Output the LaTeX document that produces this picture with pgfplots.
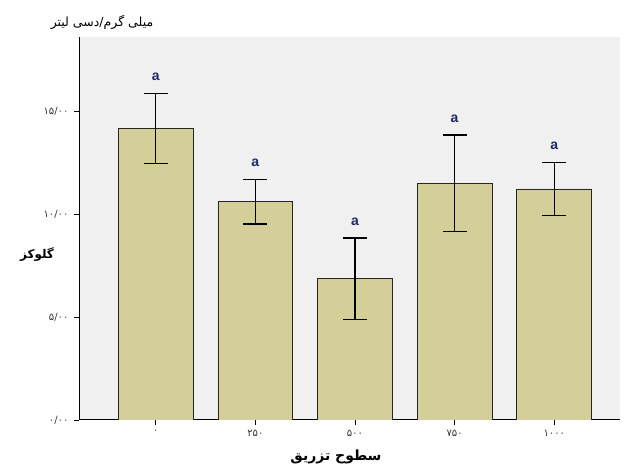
\documentclass[border=0pt]{standalone}
\usepackage{fontspec}
\usepackage{pgfplots}
\pgfplotsset{compat=1.18}
\TeXXeTstate=1
\newfontfamily\fa[Script=Arabic]{DejaVu Sans}
\newfontfamily\lat{Liberation Sans}
\definecolor{barfill}{HTML}{D4CE99}
\definecolor{panel}{HTML}{F0F0F0}
\definecolor{letter}{HTML}{1F2A6B}
\begin{document}
\begin{tikzpicture}[x=1pt,y=1pt]
\useasboundingbox (0,0) rectangle (626,468);
\begin{axis}[
  at={(79pt,48pt)}, anchor=south west,
  scale only axis, width=541pt, height=383pt,
  xmin=-0.77, xmax=4.66, ymin=0, ymax=18.6,
  axis background/.style={fill=panel},
  axis x line*=bottom, axis y line*=left,
  axis line style={-, black, line width=1pt},
  tick align=outside, major tick length=5pt,
  tick style={black, line width=0.9pt},
  xtick={0,1,2,3,4},
  xticklabels={۰,۲۵۰,۵۰۰,۷۵۰,۱۰۰۰},
  ytick={0,5,10,15},
  yticklabels={۰/۰۰,۵/۰۰,۱۰/۰۰,۱۵/۰۰},
  ticklabel style={font=\fa\fontsize{10}{11}\selectfont, text=black!80},
  yticklabel style={xshift=-2pt},
  xticklabel style={yshift=-2pt},
]
\addplot[ybar, bar width=0.75, fill=barfill, draw=black!85, line width=0.9pt,
  error bars/.cd, y dir=both, y explicit,
  error bar style={line width=1.4pt, black},
  error mark options={rotate=90, mark size=12pt, line width=1.4pt, black}]
  coordinates {
  (0,14.17) +- (0,1.70)
  (1,10.60) +- (0,1.08)
  (2,6.85)  +- (0,1.98)
  (3,11.50) +- (0,2.35)
  (4,11.22) +- (0,1.28)
  };
% letters above the upper error bounds
\addplot[draw=none, mark=none, nodes near coords={a},
  every node near coord/.style={anchor=south, yshift=9pt, text=letter,
  font=\lat\bfseries\fontsize{14}{15}\selectfont}]
  coordinates {(0,15.87) (1,11.68) (2,8.83) (3,13.85) (4,12.50)};
\end{axis}
\node at (102,446) {\fa\fontsize{12.5}{14}\selectfont\beginR میلی گرم/دسی لیتر\endR};
\node at (37,213) {\fa\bfseries\fontsize{12}{13}\selectfont\beginR گلوکز\endR};
\node at (336,11) {\fa\bfseries\fontsize{14}{15}\selectfont\beginR سطوح تزریق\endR};
\end{tikzpicture}
\end{document}
